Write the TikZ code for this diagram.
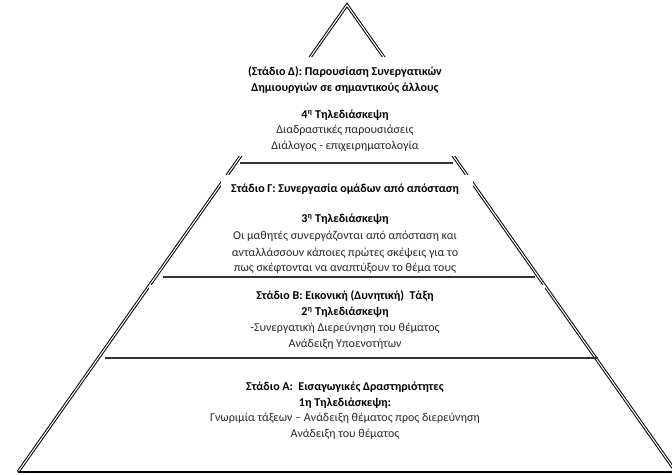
\documentclass[tikz,border=0pt]{standalone}
\usepackage{fontspec}
\setmainfont{Carlito}
\begin{document}
\begin{tikzpicture}[x=1pt,y=-1pt,
  edge/.style={draw=black,line width=1pt,double=white,double distance=1.1pt,line join=miter},
  sep/.style={draw=black!80,line width=1.2pt},
  cover/.style={fill=white,draw=none,inner sep=0pt},
  hd/.style={font=\fontsize{12}{14}\selectfont\bfseries,anchor=mid,inner sep=0pt},
  tx/.style={font=\fontsize{12}{14}\selectfont,anchor=mid,inner sep=0pt,text=black!85}]
\useasboundingbox (0,0) rectangle (672,474);
% pyramid corners
\coordinate (apex) at (347,5);
\coordinate (bl) at (18,472);
\coordinate (br) at (676,472);
\draw[edge] (bl) -- (apex) -- (br);
% white cover boxes (text areas that hide parts of the edges)
\node[cover,minimum width=220pt,minimum height=99pt] (boxD) at (347,106.5) {};
\node[cover,minimum width=252pt,minimum height=12pt] (boxG) at (347,181) {};
\node[cover,minimum width=396pt,minimum height=6pt] (boxB) at (347,287.5) {};
% separators and base
\coordinate (s1l) at (240,163); \coordinate (s1r) at (453,163);
\coordinate (s2l) at (163,277); \coordinate (s2r) at (535,277);
\coordinate (s3l) at (105,358); \coordinate (s3r) at (598,358);
\coordinate (b0l) at (18,472); \coordinate (b0r) at (672,472);
\draw[sep] (s1l) -- (s1r);
\draw[sep] (s2l) -- (s2r);
\draw[sep] (s3l) -- (s3r);
\draw[draw=black,line width=1.6pt] (b0l) -- (b0r);
% Stage D
\node[hd] (d1) at (345,73) {(Στάδιο Δ): Παρουσίαση Συνεργατικών};
\node[hd] (d2) at (345,89) {Δημιουργιών σε σημαντικούς άλλους};
\node[hd] (d3) at (345,116) {4\textsuperscript{η} Τηλεδιάσκεψη};
\node[tx] (d4) at (345,131) {Διαδραστικές παρουσιάσεις};
\node[tx] (d5) at (345,147) {Διάλογος - επιχειρηματολογία};
% Stage C
\node[hd] (g1) at (345,190) {Στάδιο Γ: Συνεργασία ομάδων από απόσταση};
\node[hd] (g2) at (345,220) {3\textsuperscript{η} Τηλεδιάσκεψη};
\node[tx] (g3) at (345,237) {Οι μαθητές συνεργάζονται από απόσταση και};
\node[tx] (g4) at (345,254) {ανταλλάσσουν κάποιες πρώτες σκέψεις για το};
\node[tx] (g5) at (345,269) {πως σκέφτονται να αναπτύξουν το θέμα τους};
% Stage B
\node[hd] (b1) at (345,297) {Στάδιο Β: Εικονική (Δυνητική)\ \ Τάξη};
\node[hd] (b2) at (345,313) {2\textsuperscript{η} Τηλεδιάσκεψη};
\node[tx] (b3) at (345,329) {-Συνεργατική Διερεύνηση του θέματος};
\node[tx] (b4) at (345,345) {Ανάδειξη Υποενοτήτων};
% Stage A
\node[hd] (a1) at (345,388) {Στάδιο Α:\ \ Εισαγωγικές Δραστηριότητες};
\node[hd] (a2) at (345,404) {1η Τηλεδιάσκεψη:};
\node[tx] (a3) at (345,419) {Γνωριμία τάξεων – Ανάδειξη θέματος προς διερεύνηση};
\node[tx] (a4) at (345,435) {Ανάδειξη του θέματος};
\end{tikzpicture}
\end{document}
